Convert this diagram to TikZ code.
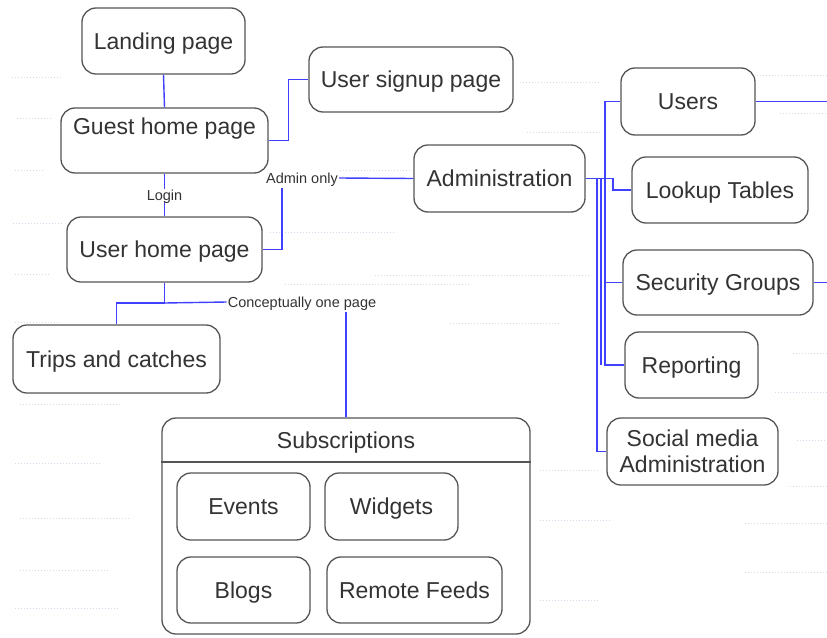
\documentclass[tikz,border=0pt]{standalone}
\usepackage{fontspec}
\setmainfont{Liberation Sans}
\definecolor{linkblue}{RGB}{64,64,255}
\definecolor{boxedge}{RGB}{85,85,85}
\definecolor{faintdot}{RGB}{220,215,235}
\begin{document}
\begin{tikzpicture}[x=1pt, y=-1pt,
  pagetext/.style={font=\fontsize{23}{26}\selectfont, text=black!80,
    text height=16.5pt, text depth=0pt, inner sep=0pt},
  pagebox/.style={pagetext, draw=boxedge, line width=1.3pt,
    rounded corners=14pt, fill=white},
  multibox/.style={draw=boxedge, line width=1.3pt, rounded corners=14pt,
    fill=white, inner sep=0pt, font=\fontsize{23}{26}\selectfont,
    text=black!80, align=center},
  link/.style={draw=linkblue, line width=1.4pt},
  linklabel/.style={font=\fontsize{14.5}{16}\selectfont, text=black!80,
    fill=white, inner sep=1pt, text height=10.5pt, text depth=0pt},
  bgdots/.style={draw=faintdot, line width=1pt, dotted}
]
\useasboundingbox (0,0) rectangle (827,637);

% faint dotted guide rows in the background
\foreach \ya/\xa/\xb in {77/12/62, 118/17/52, 170/15/45, 223/13/63, 274/15/50,
    322/15/60, 404/20/120, 463/15/100, 518/20/130, 570/20/110, 608/15/120,
    82/520/600, 132/527/600, 170/340/410, 232/270/395, 275/375/590,
    284/285/470, 323/450/560, 75/757/827, 113/780/827, 353/793/827,
    392/775/827, 440/797/827, 486/790/827, 523/745/827, 572/745/827,
    470/540/600, 520/540/610, 600/540/600}
  \draw[bgdots] (\xa,\ya) -- (\xb,\ya);

% pages on the left
\node[pagebox, minimum width=163pt, minimum height=66pt] (landing) at (163.5,41) {Landing page};
\node[pagebox, minimum width=207pt, minimum height=65pt] (guest) at (164.5,140.5) {};
\node[pagetext] (guesttext) at (164.5,126) {Guest home page};
\node[pagebox, minimum width=204pt, minimum height=65pt] (signup) at (411,79.5) {User signup page};
\node[pagebox, minimum width=195pt, minimum height=65pt] (userhome) at (164.5,249.5) {User home page};
\node[pagebox, minimum width=207pt, minimum height=68pt] (trips) at (116.5,359) {Trips and catches};

% administration branch
\node[pagebox, minimum width=171pt, minimum height=67pt] (admin) at (499.5,178.5) {Administration};
\node[pagebox, minimum width=134pt, minimum height=67pt] (users) at (688,101.5) {Users};
\node[pagebox, minimum width=176pt, minimum height=66pt] (lookup) at (720,190) {Lookup Tables};
\node[pagebox, minimum width=190pt, minimum height=65pt] (security) at (718,282.5) {Security Groups};
\node[pagebox, minimum width=133pt, minimum height=66pt] (reporting) at (691.5,365) {Reporting};
\node[multibox, minimum width=171pt, minimum height=67pt] (social) at (692.5,451.5) {Social media\\Administration};

% subscriptions container
\node[pagebox, minimum width=368pt, minimum height=216pt] (subs) at (346,526) {};
\node[pagetext] (substitle) at (346,440) {Subscriptions};
\draw[boxedge, line width=1.3pt] (subs.west |- 0,462) -- (subs.east |- 0,462);
\node[pagebox, minimum width=133pt, minimum height=67pt] (events) at (243.5,506.5) {Events};
\node[pagebox, minimum width=133pt, minimum height=67pt] (widgets) at (391.5,506.5) {Widgets};
\node[pagebox, minimum width=133pt, minimum height=66pt] (blogs) at (243.5,590) {Blogs};
\node[pagebox, minimum width=175pt, minimum height=66pt] (feeds) at (414.5,590) {Remote Feeds};

% connector labels
\node[linklabel] (adminonly) at (302,178) {Admin only};
\node[linklabel] (concept) at (302,302) {Conceptually one page};

% junction points
\coordinate (aoBend) at (282,188);
\coordinate (uhJoin) at (164.5,303);
\coordinate (cpDrop) at (346,312);
\coordinate (busSocial) at (597,178.5);
\coordinate (busReport) at (601,178.5);
\coordinate (busMain) at (605,178.5);
\coordinate (busLookup) at (613,178.5);
\coordinate (edgeUsers) at (827,101.5);
\coordinate (edgeSecurity) at (827,282.5);

% connectors
\draw[link] (landing.south) -- (guest.north);
\draw[link] (guest.east) -- ++(20,0) |- (signup.west);
\draw[link] (guest.south) -- node[linklabel] (login) {Login} (userhome.north);
\draw[link] (userhome.east) -| (aoBend);
\draw[link] (adminonly.east) -- (admin.west);
\draw[link] (userhome.south) -- (uhJoin) -| (trips.north);
\draw[link] (uhJoin) -- (concept.west);
\draw[link] (cpDrop) -- (subs.north);

\draw[link] (admin.east) -- (busLookup) -- ++(0,10) |- (lookup.west);
\draw[link] (busMain) |- (users.west);
\draw[link] (busMain) |- (security.west);
\draw[link] (busMain) |- (reporting.west);
\draw[link] (busReport) -- (busReport |- reporting.west);
\draw[link] (busSocial) |- (social.west);
\draw[link] (users.east) -- (edgeUsers);
\draw[link] (security.east) -- (edgeSecurity);
\end{tikzpicture}
\end{document}
